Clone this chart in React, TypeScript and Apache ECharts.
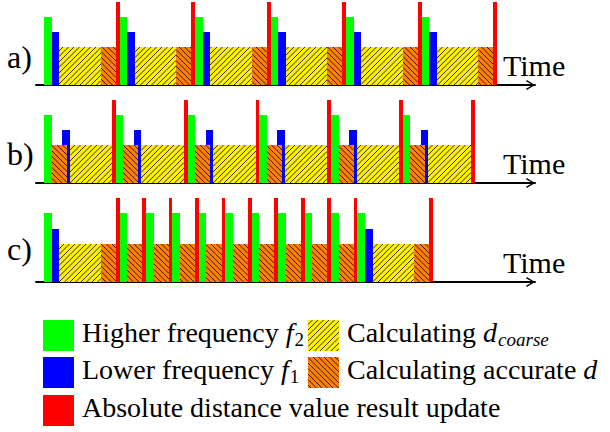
import React, { useEffect, useRef } from "react";
import * as echarts from "echarts";

// ---- data (time units; one green pulse = 1 unit) ----
const ROW_LABELS = ["a)", "b)", "c)"];
const AXIS_TITLE = "Time";

const A_GREEN = [[0, 1], [10, 11], [20, 21], [30, 31], [40, 41], [50, 51]];
const A_BLUE = [[1, 2], [11, 12], [21, 22], [31, 32], [41, 42], [51, 52]];
const A_COARSE = [[2, 7.5], [12, 17.5], [22, 27.5], [32, 37.5], [42, 47.5], [52, 57.5]];
const A_ACCURATE = [[7.5, 9.5], [17.5, 19.5], [27.5, 29.5], [37.5, 39.5], [47.5, 49.5], [57.5, 59.5]];
const A_UPDATE = [[9.5, 10], [19.5, 20], [29.5, 30], [39.5, 40], [49.5, 50], [59.5, 60]];

const B_GREEN = [[0, 1], [9.5, 10.5], [19, 20], [28.5, 29.5], [38, 39], [47.5, 48.5]];
const B_BLUE = [[2.4, 3.4], [11.9, 12.9], [21.4, 22.4], [30.9, 31.9], [40.4, 41.4], [49.9, 50.9]];
const B_COARSE = [[3.4, 9], [12.9, 18.5], [22.4, 28], [31.9, 37.5], [41.4, 47], [50.9, 56.5]];
const B_ACCURATE = [[1, 3], [10.5, 12.5], [20, 22], [29.5, 31.5], [39, 41], [48.5, 50.5]];
const B_UPDATE = [[9, 9.5], [18.5, 19], [28, 28.5], [37.5, 38], [47, 47.5], [56.5, 57]];

const C_GREEN = [[0, 1], [10, 11], [13.5, 14.5], [17, 18], [20.5, 21.5], [24, 25], [27.5, 28.5], [31, 32], [34.5, 35.5], [38, 39], [41.5, 42.5]];
const C_BLUE = [[1, 2], [42.5, 43.5]];
const C_COARSE = [[2, 7.5], [43.5, 49]];
const C_ACCURATE = [[7.5, 9.5], [11, 13], [14.5, 16.5], [18, 20], [21.5, 23.5], [25, 27], [28.5, 30.5], [32, 34], [35.5, 37.5], [39, 41], [49, 51]];
const C_UPDATE = [[9.5, 10], [13, 13.5], [16.5, 17], [20, 20.5], [23.5, 24], [27, 27.5], [30.5, 31], [34, 34.5], [37.5, 38], [41, 41.5], [51, 51.5]];

// mark heights (arbitrary units)
const H_GREEN = 4.5;
const H_BLUE = 3.5;
const H_BOX = 2.5;
const H_RED = 5.5;

const ROWS = [
  [A_GREEN, A_BLUE, A_COARSE, A_ACCURATE, A_UPDATE],
  [B_GREEN, B_BLUE, B_COARSE, B_ACCURATE, B_UPDATE],
  [C_GREEN, C_BLUE, C_COARSE, C_ACCURATE, C_UPDATE],
];

// legend texts: [text, italic, subscript]
const LEGEND_GREEN = [["Higher frequency ", 0, 0], ["f", 1, 0], ["2", 0, 1]];
const LEGEND_BLUE = [["Lower frequency ", 0, 0], ["f", 1, 0], ["1", 0, 1]];
const LEGEND_RED = [["Absolute distance value result update", 0, 0]];
const LEGEND_COARSE = [["Calculating ", 0, 0], ["d", 1, 0], ["coarse", 1, 1]];
const LEGEND_ACCURATE = [["Calculating accurate ", 0, 0], ["d", 1, 0]];

// ---- styles ----
const FONT = "Liberation Serif";
const GREEN = "#00FF00";
const BLUE = "#0000FF";
const RED = "#FF0000";
const YELLOW = "#FFF000";
const ORANGE = "#FF8000";
const HATCH_S = 5.5;

const TYPES = [
  { key: "green", color: GREEN, height: H_GREEN, hatch: 0 },
  { key: "blue", color: BLUE, height: H_BLUE, hatch: 0 },
  { key: "coarse", color: YELLOW, height: H_BOX, hatch: 1 },
  { key: "accurate", color: ORANGE, height: H_BOX, hatch: -1 },
  { key: "update", color: RED, height: H_RED, hatch: 0 },
];

const GRID_TOPS = [2, 100, 198];
const GRID_HEIGHTS = [83, 83, 84];
const LABEL_Y = [57, 154, 249];
const TIME_Y = [65, 163, 262];

function hatchSegs(x0: number, y0: number, x1: number, y1: number, dir: number, S: number) {
  const segs: number[][] = [];
  if (dir > 0) {
    const cmin = x0 + y0, cmax = x1 + y1;
    for (let k = Math.ceil(cmin / S); k * S <= cmax; k++) {
      const c = k * S;
      const xa = Math.max(x0, c - y1), xb = Math.min(x1, c - y0);
      if (xb - xa > 0.3) segs.push([xa, c - xa, xb, c - xb]);
    }
  } else {
    const cmin = x0 - y1, cmax = x1 - y0;
    for (let k = Math.ceil(cmin / S); k * S <= cmax; k++) {
      const c = k * S;
      const xa = Math.max(x0, c + y0), xb = Math.min(x1, c + y1);
      if (xb - xa > 0.3) segs.push([xa, xa - c, xb, xb - c]);
    }
  }
  return segs;
}

function boxElements(x0: number, y0: number, x1: number, y1: number, fill: string, hatch: number) {
  const children: any[] = [
    { type: "rect", shape: { x: x0, y: y0, width: x1 - x0, height: y1 - y0 }, style: { fill } },
  ];
  if (hatch) {
    hatchSegs(x0, y0, x1, y1, hatch, HATCH_S).forEach((s) => {
      children.push({
        type: "line",
        shape: { x1: s[0], y1: s[1], x2: s[2], y2: s[3] },
        style: { stroke: "#000", lineWidth: 0.8 },
      });
    });
  }
  return children;
}

const measureCtx = typeof document !== "undefined" ? document.createElement("canvas").getContext("2d") : null;
function textWidth(t: string, size: number, italic: boolean) {
  if (!measureCtx) return t.length * size * 0.45;
  measureCtx.font = (italic ? "italic " : "") + size + "px " + FONT;
  return measureCtx.measureText(t).width;
}

// builds text elements for a legend label whose baseline is at (x, baseline)
function legendText(parts: any[], x: number, baseline: number) {
  const out: any[] = [];
  let cx = x;
  parts.forEach(([t, italic, sub]) => {
    const size = sub ? 19 : 28;
    const bl = sub ? baseline + 4 : baseline;
    if (sub) cx += 1;
    const style: any = {
      text: t,
      font: (italic ? "italic " : "") + size + "px " + FONT,
      fill: "#000",
      align: "left",
      verticalAlign: "middle",
    };
    out.push({ type: "text", x: Math.round(cx * 10) / 10, y: Math.round((bl - 0.3375 * size) * 10) / 10, style });
    cx += textWidth(t, size, !!italic);
  });
  return out;
}

export default function App() {
  const ref = useRef<HTMLDivElement>(null);
  useEffect(() => {
    if (!ref.current) return;
    const chart = echarts.init(ref.current, null, { renderer: "svg" });

    const grid = GRID_TOPS.map((t, i) => ({ left: 36, width: 499, top: t, height: GRID_HEIGHTS[i] }));
    const xAxis = GRID_TOPS.map((_, i) => ({
      type: "value",
      gridIndex: i,
      min: -1.06,
      max: 65,
      axisTick: { show: false },
      axisLabel: { show: false },
      splitLine: { show: false },
      axisLine: {
        show: true,
        onZero: false,
        lineStyle: { color: "#000", width: 2 },
        symbol: ["none", "path://M5,0 L10,8 L8.6,8.8 L5,2.4 L1.4,8.8 L0,8 Z"],
        symbolSize: [11, 9],
        symbolOffset: [0, -4.5],
      },
    }));
    const yAxis = GRID_TOPS.map((_, i) => ({ type: "value", gridIndex: i, min: 0, max: 5.5, show: false }));

    const series: any[] = [];
    ROWS.forEach((row, ri) => {
      row.forEach((intervals, ti) => {
        const tp = TYPES[ti];
        series.push({
          type: "custom",
          name: tp.key + ri,
          xAxisIndex: ri,
          yAxisIndex: ri,
          clip: false,
          z: 2 + ti,
          data: intervals.map(([s, e]) => [s, e, tp.height]),
          renderItem: (params: any, api: any) => {
            const p0 = api.coord([api.value(0), 0]);
            const p1 = api.coord([api.value(1), api.value(2)]);
            const x0 = Math.round(p0[0]);
            const x1 = Math.round(p1[0]);
            const y0 = Math.round(p1[1]);
            const y1 = Math.round(p0[1]);
            return { type: "group", children: boxElements(x0, y0, x1, y1, tp.color, tp.hatch) };
          },
        });
      });
    });

    const graphic: any[] = [];
    ROW_LABELS.forEach((t, i) => {
      graphic.push({
        type: "text",
        x: 7,
        y: LABEL_Y[i],
        style: { text: t, fontSize: 32, fontFamily: FONT, fill: "#000", align: "left", verticalAlign: "middle" },
      });
      graphic.push({
        type: "text",
        x: 503,
        y: TIME_Y[i],
        style: { text: AXIS_TITLE, fontSize: 30, fontFamily: FONT, fill: "#000", align: "left", verticalAlign: "middle" },
      });
    });

    const SQ = 31;
    const legendItems = [
      { x: 43, y: 320, color: GREEN, hatch: 0, parts: LEGEND_GREEN },
      { x: 43, y: 357, color: BLUE, hatch: 0, parts: LEGEND_BLUE },
      { x: 43, y: 395, color: RED, hatch: 0, parts: LEGEND_RED },
      { x: 308, y: 320, color: YELLOW, hatch: 1, parts: LEGEND_COARSE },
      { x: 308, y: 357, color: ORANGE, hatch: -1, parts: LEGEND_ACCURATE },
    ];
    legendItems.forEach((it) => {
      boxElements(it.x, it.y, it.x + SQ, it.y + SQ, it.color, it.hatch).forEach((el) => graphic.push(el));
      legendText(it.parts, it.x + 39, it.y + 22).forEach((el) => graphic.push(el));
    });

    chart.setOption({
      animation: false,
      backgroundColor: "#fff",
      grid,
      xAxis,
      yAxis,
      series,
      graphic,
    });
    return () => chart.dispose();
  }, []);
  return <div ref={ref} style={{ position: "absolute", left: 0, top: 0, width: 610, height: 432 }} />;
}
